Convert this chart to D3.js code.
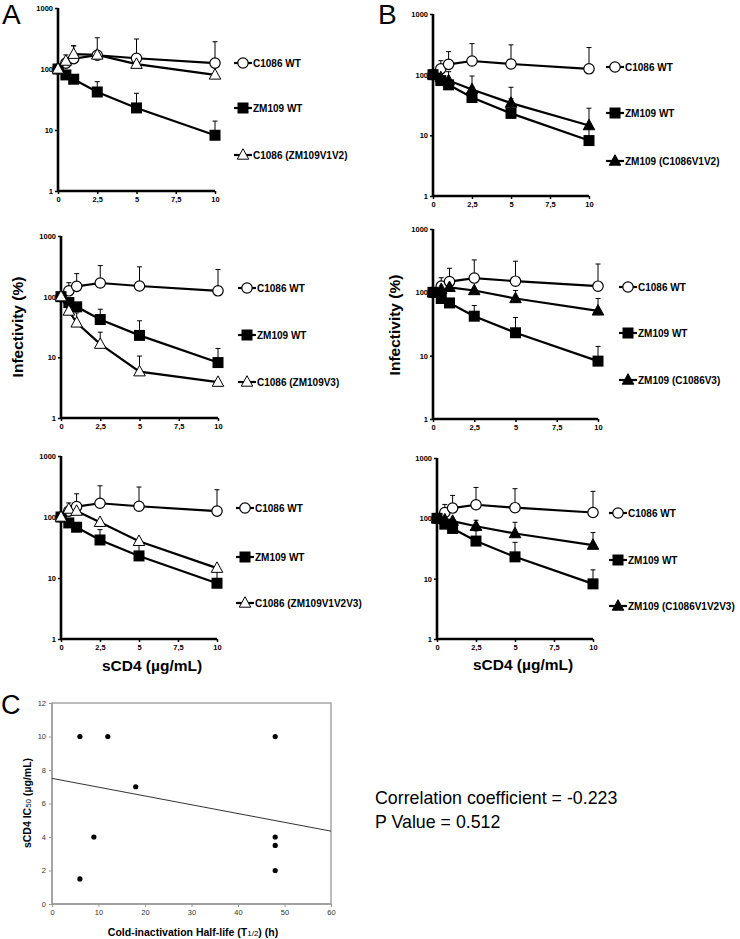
<!DOCTYPE html>
<html><head><meta charset="utf-8">
<script src="https://cdn.jsdelivr.net/npm/d3@7"></script>
<style>body{margin:0;background:#fff}svg{display:block}text{font-family:"Liberation Sans",Arial,sans-serif}</style>
</head><body><svg id="c" width="740" height="939"></svg>
<script>
// ---------- data: dose response ----------
const doses = [0, 0.5, 1, 2.5, 5, 10];
const xTickVals = [0, 2.5, 5, 7.5, 10];
const xTickLabels = ["0", "2,5", "5", "7,5", "10"];
const yTickVals = [1, 10, 100, 1000];
const yTickLabels = ["1", "10", "100", "1000"];

const c1086WT     = [100, 125, 148, 168, 150, 125];
const c1086WTErr  = [null, 170, 240, 325, 310, 280];
const zm109WT     = [100, 80, 68, 42, 23, 8.2];
const zm109WTErr  = [null, null, null, 62, 40, 14];

const c1086V1V2       = [100, 135, 175, 170, 120, 80];
const c1086V1V2Err    = [null, null, 240, null, null, null];
const c1086V3         = [100, 58, 37, 16.5, 5.8, 3.9];
const c1086V3Err      = [null, 70, 54, 26, 10.5, null];
const c1086V1V2V3     = [100, 135, 125, 82, 40, 14.5];
const c1086V1V2V3Err  = [null, null, null, null, null, null];
const zm109V1V2       = [100, 90, 80, 57, 34, 14.5];
const zm109V1V2Err    = [null, null, 112, 95, 62, 28];
const zm109V3         = [100, 112, 120, 107, 80, 51];
const zm109V3Err      = [null, 150, null, null, 107, 80];
const zm109V1V2V3     = [100, 95, 90, 74, 56, 36];
const zm109V1V2V3Err  = [null, null, null, 93, 86, 58];

const seriesNames = ["C1086 WT", "ZM109 WT",
  "C1086 (ZM109V1V2)", "C1086 (ZM109V3)", "C1086 (ZM109V1V2V3)",
  "ZM109 (C1086V1V2)", "ZM109 (C1086V3)", "ZM109 (C1086V1V2V3)"];

// ---------- data: panel C ----------
const halfLife = [6, 12, 48, 18, 9, 6, 48, 48, 48];
const ic50     = [10, 10, 10, 7, 4, 1.5, 4, 3.5, 2];
const cXTicks = [0, 10, 20, 30, 40, 50, 60];
const cYTicks = [0, 2, 4, 6, 8, 10, 12];
const fitIntercept = 7.5, fitSlope = -0.0525;
const statLines = ["Correlation coefficient = -0.223", "P Value = 0.512"];

// ---------- layout ----------
const svg = d3.select("#c");

const panels = [
  {x0:58, x1:215, yT:8,   yB:191, lx:243, ly:[63,108,155], third:[c1086V1V2, c1086V1V2Err, seriesNames[2], "openTri"]},
  {x0:61, x1:218, yT:236, yB:418, lx:247, ly:[288,335,382], third:[c1086V3, c1086V3Err, seriesNames[3], "openTri"]},
  {x0:61, x1:217, yT:456, yB:639, lx:245, ly:[508,557,603], third:[c1086V1V2V3, c1086V1V2V3Err, seriesNames[4], "openTri"]},
  {x0:433, x1:589, yT:14, yB:196, lx:615, ly:[67,113,161], third:[zm109V1V2, zm109V1V2Err, seriesNames[5], "fillTri"]},
  {x0:433, x1:598, yT:229, yB:419, lx:628, ly:[287,333,380], third:[zm109V3, zm109V3Err, seriesNames[6], "fillTri"]},
  {x0:437, x1:593, yT:458, yB:639, lx:618, ly:[513,560,606], third:[zm109V1V2V3, zm109V1V2V3Err, seriesNames[7], "fillTri"]}
];

function marker(g, type, cx, cy) {
  if (type === "circle") {
    g.append("circle").attr("cx", cx).attr("cy", cy).attr("r", 5.2)
      .attr("fill", "#fff").attr("stroke", "#000").attr("stroke-width", 1.2);
  } else if (type === "square") {
    g.append("rect").attr("x", cx - 5.5).attr("y", cy - 5.5).attr("width", 11).attr("height", 11)
      .attr("fill", "#000");
  } else {
    const s = 11.5, h = 10.5;
    g.append("path")
      .attr("d", `M${cx},${cy - h * 0.6}L${cx + s / 2},${cy + h * 0.4}L${cx - s / 2},${cy + h * 0.4}Z`)
      .attr("fill", type === "fillTri" ? "#000" : "#fff")
      .attr("stroke", "#000").attr("stroke-width", 1);
  }
}

panels.forEach(p => {
  const x = d3.scaleLinear().domain([0, 10]).range([p.x0, p.x1]);
  const y = d3.scaleLog().domain([1, 1000]).range([p.yB, p.yT]);
  const g = svg.append("g");

  const series = [
    [c1086WT, c1086WTErr, seriesNames[0], "circle"],
    [zm109WT, zm109WTErr, seriesNames[1], "square"],
    p.third
  ];

  // error bars
  series.forEach(([vals, errs]) => {
    errs.forEach((e, i) => {
      if (e == null) return;
      const xx = x(doses[i]);
      g.append("line").attr("x1", xx).attr("x2", xx).attr("y1", y(vals[i])).attr("y2", y(e))
        .attr("stroke", "#000").attr("stroke-width", 1);
      g.append("line").attr("x1", xx - 2.5).attr("x2", xx + 2.5).attr("y1", y(e)).attr("y2", y(e))
        .attr("stroke", "#000").attr("stroke-width", 1);
    });
  });

  // lines
  const line = d3.line().x((d, i) => x(doses[i])).y(d => y(d));
  series.forEach(([vals]) => {
    g.append("path").attr("d", line(vals)).attr("fill", "none")
      .attr("stroke", "#000").attr("stroke-width", 2.2);
  });

  // axes
  const yAxis = d3.axisLeft(y).tickValues(yTickVals).tickSize(3)
    .tickFormat((d, i) => yTickLabels[i]);
  const ya = g.append("g").attr("transform", `translate(${p.x0},0)`).call(yAxis);
  const xAxis = d3.axisBottom(x).tickValues(xTickVals).tickSize(3)
    .tickFormat((d, i) => xTickLabels[i]);
  const xa = g.append("g").attr("transform", `translate(0,${p.yB})`).call(xAxis);
  [ya, xa].forEach(a => {
    a.select(".domain").attr("stroke", "#000").attr("stroke-width", 2.6);
    a.selectAll(".tick line").attr("stroke", "#000").attr("stroke-width", 1.5);
    a.selectAll("text").attr("font-family", "Liberation Sans, Arial, sans-serif")
      .attr("font-size", 7.5).attr("font-weight", "bold").attr("fill", "#000");
  });
  ya.selectAll(".domain").attr("d", `M0,${p.yB}V${p.yT}`);
  xa.selectAll(".domain").attr("d", `M${p.x0},0H${p.x1}`);
  ya.selectAll("text").attr("x", -5);
  xa.selectAll("text").attr("y", 6);

  // markers
  series.forEach(([vals, , , type]) => {
    vals.forEach((v, i) => marker(g, type, x(doses[i]), y(v)));
  });

  // legend
  series.forEach(([, , name, type], k) => {
    const ly = p.ly[k];
    g.append("line").attr("x1", p.lx - 9).attr("x2", p.lx + 9).attr("y1", ly).attr("y2", ly)
      .attr("stroke", "#000").attr("stroke-width", 2.2);
    marker(g, type, p.lx, ly);
    g.append("text").attr("x", p.lx + 10).attr("y", ly).attr("dy", "0.35em")
      .attr("font-size", 10).attr("font-weight", "bold").text(name);
  });
});

// panel letters
svg.append("text").attr("x", 2).attr("y", 24).attr("font-size", 28).text("A");
svg.append("text").attr("x", 378).attr("y", 24).attr("font-size", 28).text("B");
svg.append("text").attr("x", 1).attr("y", 714).attr("font-size", 27).text("C");

// axis titles for dose panels
[[18, 327], [395, 325]].forEach(([tx, ty]) => {
  svg.append("text").attr("transform", `translate(${tx},${ty}) rotate(-90)`)
    .attr("text-anchor", "middle").attr("dy", "0.35em")
    .attr("font-size", 15.5).attr("font-weight", "bold").text("Infectivity (%)");
});
[[152, 666], [523, 665]].forEach(([tx, ty]) => {
  svg.append("text").attr("x", tx).attr("y", ty).attr("text-anchor", "middle").attr("dy", "0.35em")
    .attr("font-size", 15.5).attr("font-weight", "bold").text("sCD4 (µg/mL)");
});

// ---------- panel C ----------
{
  const x = d3.scaleLinear().domain([0, 60]).range([52, 331]);
  const y = d3.scaleLinear().domain([0, 12]).range([904, 703]);
  const g = svg.append("g");
  g.append("rect").attr("x", 52).attr("y", 703).attr("width", 279).attr("height", 201)
    .attr("fill", "none").attr("stroke", "#999").attr("stroke-width", 1.3);
  const ya = g.append("g").attr("transform", "translate(52,0)")
    .call(d3.axisLeft(y).tickValues(cYTicks).tickSize(3));
  const xa = g.append("g").attr("transform", "translate(0,904)")
    .call(d3.axisBottom(x).tickValues(cXTicks).tickSize(3));
  [ya, xa].forEach(a => {
    a.select(".domain").attr("stroke", "#999").attr("stroke-width", 1.3);
    a.selectAll(".tick line").attr("stroke", "#999");
    a.selectAll("text").attr("font-family", "Liberation Sans, Arial, sans-serif")
      .attr("font-size", 7.5).attr("fill", "#333");
  });
  ya.select(".domain").attr("d", "M0,904V703");
  xa.select(".domain").attr("d", "M52,0H331");

  g.append("line").attr("x1", x(0)).attr("x2", x(60))
    .attr("y1", y(fitIntercept)).attr("y2", y(fitIntercept + fitSlope * 60))
    .attr("stroke", "#333").attr("stroke-width", 1);

  halfLife.forEach((h, i) => {
    g.append("circle").attr("cx", x(h)).attr("cy", y(ic50[i])).attr("r", 2.6).attr("fill", "#000");
  });

  const yl = svg.append("text").attr("transform", "translate(27,803) rotate(-90)")
    .attr("text-anchor", "middle").attr("dy", "0.35em")
    .attr("font-size", 10.5).attr("font-weight", "bold");
  yl.append("tspan").text("sCD4 IC");
  yl.append("tspan").attr("font-size", 8).attr("font-weight", "normal").text("50");
  yl.append("tspan").text(" (µg/mL)");

  const xl = svg.append("text").attr("x", 193).attr("y", 932)
    .attr("text-anchor", "middle").attr("dy", "0.35em")
    .attr("font-size", 10.5).attr("font-weight", "bold");
  xl.append("tspan").text("Cold-inactivation Half-life  (T");
  xl.append("tspan").attr("font-size", 8).attr("font-weight", "normal").text("1/2");
  xl.append("tspan").text(") (h)");

  statLines.forEach((s, i) => {
    svg.append("text").attr("x", 375).attr("y", 804 + i * 24)
      .attr("font-size", 17.8).text(s);
  });
}
</script></body></html>
